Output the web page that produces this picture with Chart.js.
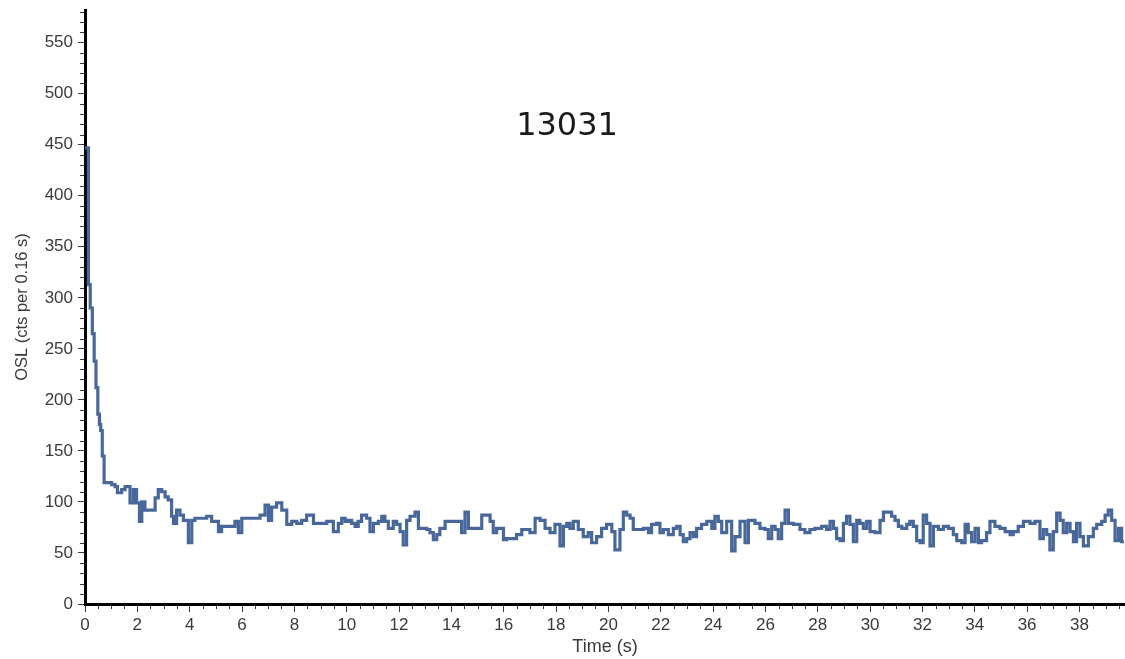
<!DOCTYPE html>
<html>
<head>
<meta charset="utf-8">
<title>OSL decay curve 13031</title>
<script src="https://cdn.jsdelivr.net/npm/chart.js@4.4.0/dist/chart.umd.min.js"></script>
<style>
  html, body { margin: 0; padding: 0; background: #ffffff; }
  canvas { display: block; }
</style>
</head>
<body>
<canvas id="osl" width="1125" height="659"></canvas>
<script>
// Sample identifier shown on the plot
const sampleId = '13031';

// Stimulation time (s) at which each count level begins
const timeS = [
  0, 0.13, 0.2, 0.28, 0.35, 0.42, 0.49, 0.55, 0.6, 0.66, 0.73,
  1.02, 1.15, 1.24, 1.40, 1.53, 1.72, 1.85, 1.97, 2.08, 2.17, 2.29, 2.68, 2.80, 2.93, 3.06, 3.18, 3.31, 3.38, 3.50,
  3.63, 3.76, 3.95, 4.08, 4.20, 4.65, 4.84, 5.10, 5.22, 5.73, 5.86, 5.99, 6.69, 6.88, 7.01, 7.13, 7.32, 7.52, 7.71,
  7.90, 8.09, 8.28, 8.47, 8.73, 9.24,
  9.49, 9.68, 9.81, 9.94, 10.06, 10.19, 10.32, 10.44, 10.57, 10.76, 10.89, 11.02, 11.21, 11.34, 11.46, 11.59, 11.78,
  11.91, 12.04, 12.16, 12.29, 12.42, 12.61, 12.74, 13.06, 13.18, 13.31, 13.44, 13.56, 13.76, 14.39, 14.52, 14.65,
  15.16, 15.48, 15.60, 15.73, 15.99, 16.11, 16.49, 16.69, 17.00, 17.20, 17.39, 17.58, 17.77, 17.96, 18.15, 18.28,
  18.41, 18.53, 18.66, 18.85,
  19.04, 19.23, 19.36, 19.55, 19.74, 19.93, 20.13, 20.25, 20.44, 20.57, 20.70, 20.83, 20.95, 21.34, 21.53, 21.65,
  21.84, 21.97, 22.10, 22.29, 22.48, 22.61, 22.74, 22.86, 22.99, 23.12, 23.25, 23.37, 23.56, 23.76, 23.95, 24.07,
  24.20, 24.33, 24.52, 24.71, 24.84, 25.03, 25.22, 25.35, 25.60, 25.79, 25.98, 26.11, 26.24, 26.37, 26.49, 26.62,
  26.75, 26.88, 27.07, 27.32, 27.51, 27.70, 27.89, 28.15, 28.34, 28.47,
  28.60, 28.72, 28.85, 28.98, 29.10, 29.23, 29.36, 29.49, 29.61, 29.74, 29.87, 30.00, 30.19, 30.38, 30.51, 30.82,
  30.95, 31.08, 31.21, 31.40, 31.52, 31.65, 31.78, 31.91, 32.03, 32.16, 32.29, 32.42, 32.61, 32.80, 32.99, 33.18,
  33.31, 33.50, 33.63, 33.75, 33.88, 34.01, 34.14, 34.26, 34.45, 34.58, 34.77, 34.96, 35.16, 35.35, 35.47, 35.66,
  35.86, 36.11, 36.30, 36.49, 36.62, 36.75, 36.87, 37.00, 37.13, 37.26, 37.38, 37.51, 37.64, 37.77, 37.89, 38.02,
  38.15, 38.34, 38.53, 38.66, 38.85, 38.98, 39.10, 39.23, 39.36, 39.49, 39.61, 39.70
];

// OSL counts per 0.16 s channel
const countsOSL = [
  447, 313, 290, 265, 238, 212, 186, 176, 170, 145, 119,
  117, 115, 109, 112, 115, 99, 112, 99, 81, 100, 92, 104, 112, 110, 105, 102, 86, 79, 92,
  87, 82, 60, 82, 84, 86, 81, 71, 76, 81, 70, 84, 87, 97, 82, 95, 99, 92, 78,
  81, 79, 82, 87, 79, 81,
  71, 79, 84, 81, 82, 79, 76, 81, 87, 84, 71, 79, 81, 86, 81, 74, 81,
  78, 71, 58, 82, 86, 90, 74, 73, 70, 63, 68, 74, 81, 70, 90, 74,
  87, 81, 70, 74, 63, 64, 68, 73, 70, 84, 82, 74, 70, 78, 57, 76,
  79, 74, 81, 73,
  66, 70, 60, 66, 74, 78, 71, 53, 73, 90, 87, 84, 73, 74, 70, 78,
  79, 70, 73, 68, 74, 76, 68, 61, 64, 70, 66, 74, 78, 81, 74, 86,
  81, 70, 81, 52, 66, 81, 60, 82, 79, 74, 73, 64, 76, 73, 64, 79,
  92, 79, 78, 73, 70, 73, 74, 76, 73, 81,
  74, 64, 62, 79, 86, 78, 61, 82, 79, 74, 81, 71, 70, 82, 90, 86,
  82, 76, 74, 78, 81, 76, 62, 60, 87, 79, 57, 76, 73, 76, 74, 68,
  62, 60, 78, 70, 61, 74, 60, 62, 70, 81, 76, 74, 71, 68, 71, 76,
  81, 79, 81, 64, 73, 68, 53, 71, 89, 82, 70, 79, 71, 61, 79, 66,
  57, 66, 74, 78, 81, 87, 92, 82, 62, 74, 61, 61
];

// Labelled axis ticks
const xTicks = [0, 2, 4, 6, 8, 10, 12, 14, 16, 18, 20, 22, 24, 26, 28, 30, 32, 34, 36, 38];
const yTicks = [0, 50, 100, 150, 200, 250, 300, 350, 400, 450, 500, 550];

const X_MAX = 39.74;
const Y_MAX = 582;

const points = timeS.map((t, i) => ({ x: t, y: countsOSL[i] }));

const labelFont = { family: '"Liberation Sans", Arial, sans-serif', size: 17 };
const tickInk = '#3a3a3a';

// Short unlabelled ticks between the labelled ones, placed through the scales
const minorTicks = {
  id: 'minorTicks',
  afterDraw(chart) {
    const { ctx, chartArea, scales } = chart;
    ctx.save();
    ctx.strokeStyle = tickInk;
    ctx.lineWidth = 1;
    for (let v = 10; v < Y_MAX; v += 10) {
      if (v % 50 === 0) continue;
      const py = Math.round(scales.y.getPixelForValue(v)) + 0.5;
      ctx.beginPath();
      ctx.moveTo(chartArea.left - 5, py);
      ctx.lineTo(chartArea.left - 1, py);
      ctx.stroke();
    }
    for (let v = 0.5; v < X_MAX; v += 0.5) {
      if (v % 2 === 0) continue;
      const px = Math.round(scales.x.getPixelForValue(v)) + 0.5;
      ctx.beginPath();
      ctx.moveTo(px, chartArea.bottom + 1);
      ctx.lineTo(px, chartArea.bottom + 5);
      ctx.stroke();
    }
    ctx.restore();
  }
};

// Sample number written inside the plot area
const sampleLabel = {
  id: 'sampleLabel',
  afterDraw(chart) {
    const { ctx, chartArea } = chart;
    ctx.save();
    ctx.font = '32px "DejaVu Sans", Verdana, sans-serif';
    ctx.fillStyle = '#1a1a1a';
    ctx.textAlign = 'center';
    ctx.textBaseline = 'middle';
    const cx = chartArea.left + 0.4635 * (chartArea.right - chartArea.left);
    ctx.fillText(sampleId, cx, 127);
    ctx.restore();
  }
};

new Chart(document.getElementById('osl'), {
  type: 'line',
  data: {
    datasets: [{
      data: points,
      stepped: true,
      borderColor: '#48689b',
      borderWidth: 3.2,
      pointRadius: 0,
      fill: false,
      tension: 0
    }]
  },
  options: {
    responsive: false,
    animation: false,
    events: [],
    layout: { padding: { top: 10, right: 0, left: 0, bottom: 0 } },
    plugins: { legend: { display: false }, tooltip: { enabled: false }, title: { display: false } },
    scales: {
      x: {
        type: 'linear',
        min: 0,
        max: X_MAX,
        afterBuildTicks: s => { s.ticks = xTicks.map(v => ({ value: v })); },
        afterFit: s => { s.height = 55; },
        ticks: { font: labelFont, color: tickInk, padding: 3, maxRotation: 0, autoSkip: false },
        grid: { display: true, drawOnChartArea: false, tickLength: 8, tickColor: tickInk, tickWidth: 1 },
        border: { display: true, color: '#000000', width: 3 },
        title: { display: true, text: 'Time (s)', font: { family: labelFont.family, size: 18 }, color: tickInk, padding: { top: 0, bottom: 1 } }
      },
      y: {
        type: 'linear',
        min: 0,
        max: Y_MAX,
        afterBuildTicks: s => { s.ticks = yTicks.map(v => ({ value: v })); },
        afterFit: s => { s.width = 85; s.paddingTop = 0; s.paddingBottom = 0; },
        ticks: { font: labelFont, color: tickInk, padding: 5, autoSkip: false },
        grid: { display: true, drawOnChartArea: false, tickLength: 7, tickColor: tickInk, tickWidth: 1 },
        border: { display: true, color: '#000000', width: 3 },
        title: { display: true, text: 'OSL (cts per 0.16 s)', font: { family: labelFont.family, size: 16.5 }, color: tickInk, padding: { top: 13, bottom: 0 } }
      }
    }
  },
  plugins: [minorTicks, sampleLabel]
});
</script>
</body>
</html>
